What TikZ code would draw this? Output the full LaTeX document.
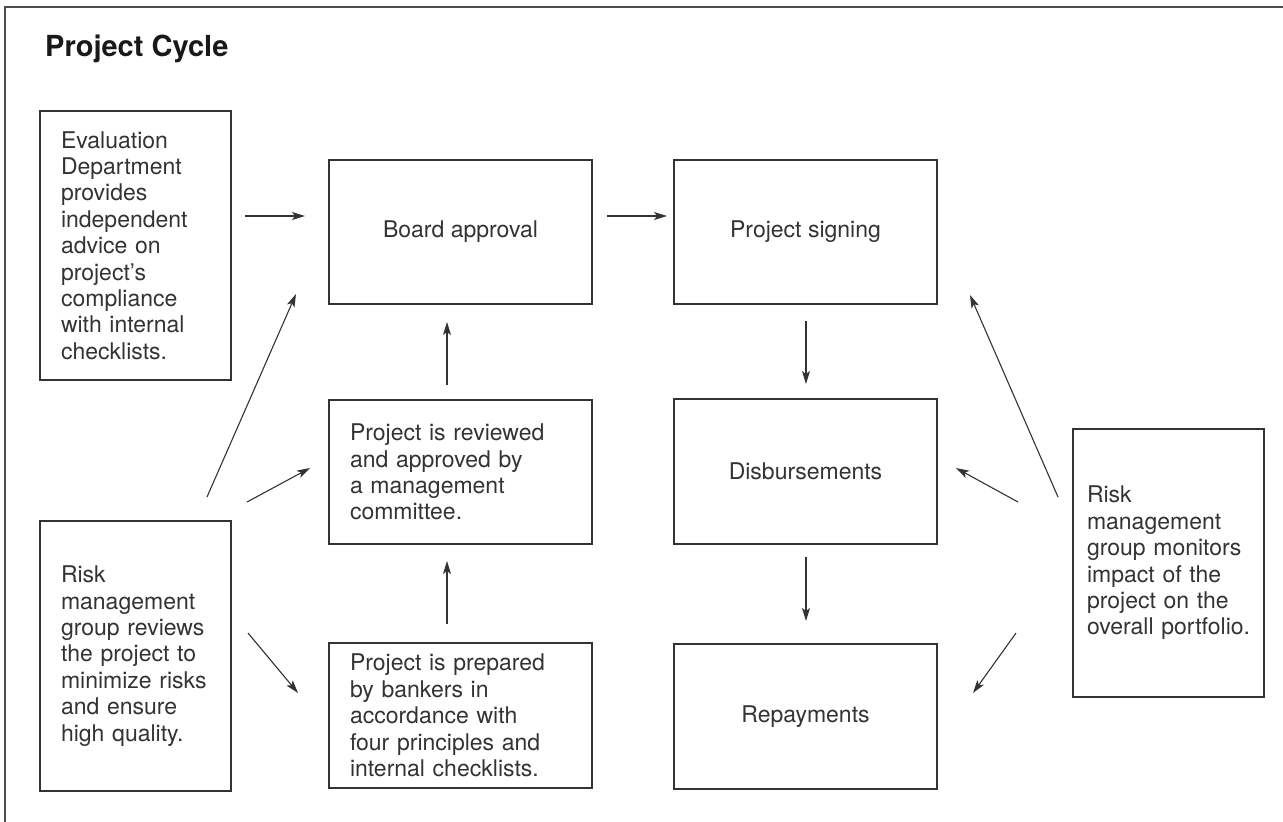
\documentclass[tikz,border=0pt]{standalone}
\usepackage{fontspec}
\setmainfont{TeX Gyre Heros}
\usetikzlibrary{arrows.meta}
\newcommand\boxfont{\fontsize{23}{26.4}\selectfont\hyphenpenalty=10000\relax}

\begin{document}
\begin{tikzpicture}[x=1pt,y=-1pt,
    ink/.style={draw=black!80,line width=1.1pt},
    flow/.style={ink,-{Stealth[length=13pt,width=8pt,inset=3pt]}},
    stage/.style={ink,rectangle,minimum width=263pt,minimum height=144pt,inner sep=0pt,
        font=\boxfont,text=black!80},
    notebox/.style={stage,text width=#1,align=left},
    sidebox/.style={stage,minimum width=191pt,text width=#1,align=left}]
    \useasboundingbox (0,0) rectangle (1283,822);
    % frame and title
    \draw[draw=black!70,line width=1.3pt] (5,822) -- (5,7) -- (1283,7);
    \node[anchor=base west,inner sep=0pt,font=\fontsize{29}{33}\selectfont\bfseries,text=black!90] (title) at (45,56) {Project Cycle};

    % left column
    \node[sidebox=149pt,minimum height=269pt] (eval) at (135.5,245.5) {Evaluation\\ Department\\ provides\\ independent\\ advice on\\ project’s\\ compliance\\ with internal\\ checklists.};
    \node[sidebox=149pt,minimum height=270pt] (riskL) at (135.5,656) {Risk\\ management\\ group reviews\\ the project to\\ minimize risks\\ and ensure\\ high quality.};

    % middle column
    \node[stage] (board) at (460.5,232) {Board approval};
    \node[notebox=221pt] (review) at (460.5,472) {Project is reviewed\\ and approved by\\ a management\\ committee.};
    \node[notebox=221pt,minimum height=145pt] (prep) at (460.5,715.5) {Project is prepared\\ by bankers in\\ accordance with\\ four principles and\\ internal checklists.};

    % right column
    \node[stage] (sign) at (805.5,232) {Project signing};
    \node[stage,minimum height=145pt] (disb) at (805.5,471.5) {Disbursements};
    \node[stage,minimum height=145pt] (repay) at (805.5,716.5) {Repayments};
    \node[sidebox=163pt,minimum height=268pt] (riskR) at (1168.5,563) {Risk\\ management\\ group monitors\\ impact of the\\ project on the\\ \mbox{overall portfolio.}};

    % arrow ends
    \coordinate (e1) at (245,216);  \coordinate (b1) at (305,216);
    \coordinate (b2) at (607,216);  \coordinate (s1) at (667,216);
    \coordinate (r1) at (447,385);  \coordinate (b3) at (447,322);
    \coordinate (p1) at (447,624);  \coordinate (r2) at (447,561);
    \coordinate (l1) at (207,497);  \coordinate (b4) at (296,294);
    \coordinate (l2) at (247,502);  \coordinate (r3) at (310,468);
    \coordinate (l3) at (248,633);  \coordinate (p2) at (298,693);
    \coordinate (s2) at (806,321);  \coordinate (d1) at (806,384);
    \coordinate (d2) at (806,557);  \coordinate (y1) at (806,621);
    \coordinate (m1) at (1058,497); \coordinate (s3) at (970,295);
    \coordinate (m2) at (1018,502); \coordinate (d3) at (956,468);
    \coordinate (m3) at (1016,633); \coordinate (y2) at (973,693);

    \draw[flow] (e1) -- (b1);
    \draw[flow] (b2) -- (s1);
    \draw[flow] (r1) -- (b3);
    \draw[flow] (p1) -- (r2);
    \draw[flow] (l1) -- (b4);
    \draw[flow] (l2) -- (r3);
    \draw[flow] (l3) -- (p2);
    \draw[flow] (s2) -- (d1);
    \draw[flow] (d2) -- (y1);
    \draw[flow] (m1) -- (s3);
    \draw[flow] (m2) -- (d3);
    \draw[flow] (m3) -- (y2);
\end{tikzpicture}
\end{document}
